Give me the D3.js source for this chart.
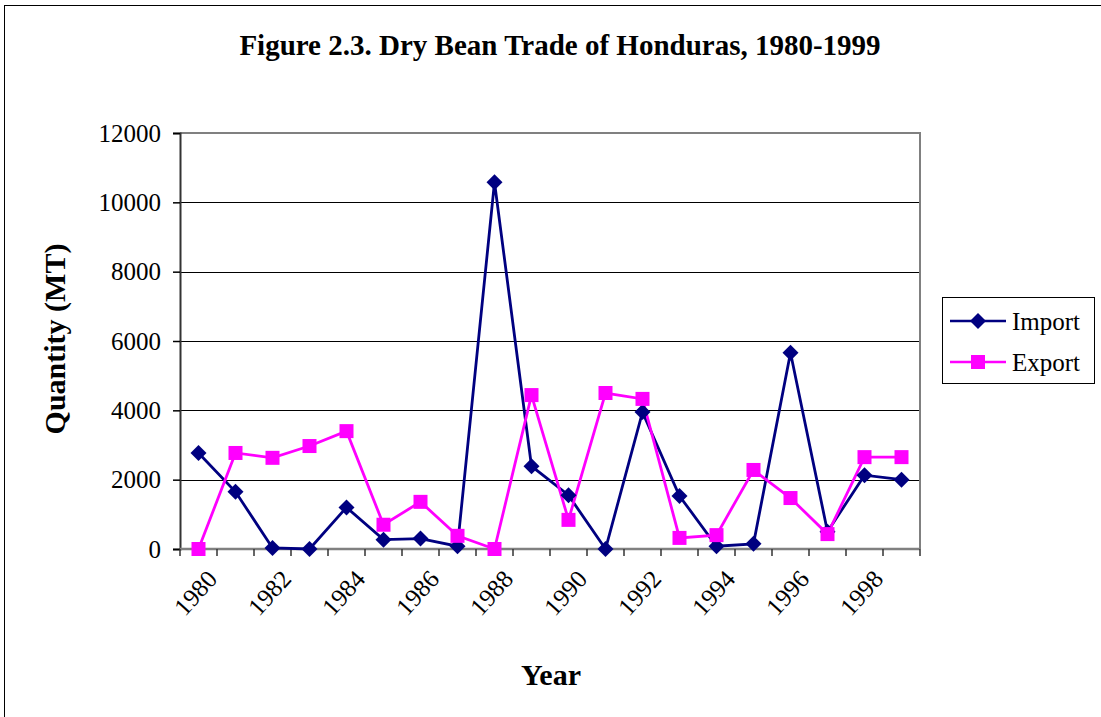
<!DOCTYPE html>
<html>
<head>
<meta charset="utf-8">
<title>Dry Bean Trade of Honduras</title>
<script src="https://d3js.org/d3.v7.min.js"></script>
<style>
  body { margin: 0; background: #fff; }
  svg { display: block; font-family: "Liberation Serif", "Times New Roman", serif; }
</style>
</head>
<body>
<svg id="chart" width="1101" height="717"></svg>
<script>
// data
const years = ["1980","1981","1982","1983","1984","1985","1986","1987","1988","1989",
               "1990","1991","1992","1993","1994","1995","1996","1997","1998","1999"];
const importValues = [2770, 1650, 30, 0, 1200, 270, 300, 80, 10580, 2390,
                      1550, 0, 3950, 1530, 80, 150, 5660, 500, 2130, 2000];
const exportValues = [0, 2770, 2630, 2970, 3400, 700, 1360, 380, 0, 4440,
                      840, 4500, 4330, 320, 400, 2280, 1470, 430, 2650, 2650];
const yTicks = [0, 2000, 4000, 6000, 8000, 10000, 12000];
const labelYears = ["1980","1982","1984","1986","1988","1990","1992","1994","1996","1998"];

const svg = d3.select("#chart");
const plot = {left: 180, right: 920, top: 133, bottom: 549};

// outer chart border
svg.append("rect")
  .attr("x", 4.5).attr("y", 5.5)
  .attr("width", 1110).attr("height", 720)
  .attr("fill", "none").attr("stroke", "#000").attr("stroke-width", 1);

const x = d3.scaleBand().domain(years).range([plot.left, plot.right]);
const y = d3.scaleLinear().domain([0, 12000]).range([plot.bottom, plot.top]);
const cx = function(d) { return x(d) + x.bandwidth() / 2; };

// title
svg.append("text")
  .attr("x", 560).attr("y", 55)
  .attr("text-anchor", "middle")
  .attr("font-size", 29).attr("font-weight", "bold")
  .text("Figure 2.3. Dry Bean Trade of Honduras, 1980-1999");

// gridlines
svg.append("g").selectAll("line")
  .data(yTicks.filter(function(t) { return t > 0 && t < 12000; }))
  .enter().append("line")
    .attr("x1", plot.left).attr("x2", plot.right)
    .attr("y1", function(d) { return Math.round(y(d)) + 0.5; })
    .attr("y2", function(d) { return Math.round(y(d)) + 0.5; })
    .attr("stroke", "#000").attr("stroke-width", 1);

// plot frame: top + right gray
svg.append("path")
  .attr("d", "M" + plot.left + "," + (plot.top) + "H" + plot.right + "V" + plot.bottom)
  .attr("fill", "none").attr("stroke", "#808080").attr("stroke-width", 2);

// y axis
const yAxis = svg.append("g")
  .attr("transform", "translate(" + plot.left + ",0)")
  .call(d3.axisLeft(y).tickValues(yTicks).tickSize(7).tickPadding(12).tickFormat(d3.format("d")));
yAxis.select(".domain").attr("stroke", "#333").attr("stroke-width", 2);
yAxis.selectAll(".tick line").attr("stroke", "#000").attr("stroke-width", 1.5);
yAxis.selectAll(".tick text")
  .attr("font-size", 25).attr("fill", "#000")
  .attr("font-family", "Liberation Serif, serif");

// x axis: baseline and ticks at category boundaries
const boundaries = years.map(function(d) { return x(d); }).concat([plot.right]);
svg.append("line")
  .attr("x1", plot.left).attr("x2", plot.right)
  .attr("y1", plot.bottom).attr("y2", plot.bottom)
  .attr("stroke", "#808080").attr("stroke-width", 2.5);
svg.append("g").selectAll("line")
  .data(boundaries)
  .enter().append("line")
    .attr("x1", function(d) { return d; }).attr("x2", function(d) { return d; })
    .attr("y1", plot.bottom).attr("y2", plot.bottom + 7)
    .attr("stroke", "#333").attr("stroke-width", 1.5);

// x tick labels, rotated
svg.append("g").selectAll("text")
  .data(labelYears)
  .enter().append("text")
    .attr("transform", function(d) { return "translate(" + (cx(d) + 20) + "," + 580 + ") rotate(-48)"; })
    .attr("text-anchor", "end")
    .attr("font-size", 25)
    .text(function(d) { return d; });

// axis titles
svg.append("text")
  .attr("transform", "translate(65,339) rotate(-90)")
  .attr("text-anchor", "middle")
  .attr("font-size", 30).attr("font-weight", "bold")
  .text("Quantity (MT)");
svg.append("text")
  .attr("x", 551).attr("y", 685)
  .attr("text-anchor", "middle")
  .attr("font-size", 30).attr("font-weight", "bold")
  .text("Year");

// series
const series = [
  {name: "Import", values: importValues, color: "#000080", marker: "diamond"},
  {name: "Export", values: exportValues, color: "#FF00FF", marker: "square"}
];

const line = d3.line()
  .x(function(d, i) { return cx(years[i]); })
  .y(function(d) { return y(d); });

function drawMarker(g, type, color) {
  if (type === "diamond") {
    g.append("path").attr("d", "M0,-8L8,0L0,8L-8,0Z").attr("fill", color);
  } else {
    g.append("rect").attr("x", -7).attr("y", -7).attr("width", 14).attr("height", 14).attr("fill", color);
  }
}

series.forEach(function(s) {
  svg.append("path")
    .datum(s.values)
    .attr("d", line)
    .attr("fill", "none")
    .attr("stroke", s.color)
    .attr("stroke-width", 2.8);
});
series.forEach(function(s) {
  s.values.forEach(function(v, i) {
    const g = svg.append("g").attr("transform", "translate(" + cx(years[i]) + "," + y(v) + ")");
    drawMarker(g, s.marker, s.color);
  });
});

// legend
const legend = svg.append("g");
legend.append("rect")
  .attr("x", 942.5).attr("y", 297.5).attr("width", 152).attr("height", 86)
  .attr("fill", "#fff").attr("stroke", "#000").attr("stroke-width", 1);
series.forEach(function(s, i) {
  const ly = 321 + i * 41;
  legend.append("line")
    .attr("x1", 950).attr("x2", 1006).attr("y1", ly).attr("y2", ly)
    .attr("stroke", s.color).attr("stroke-width", 2.5);
  drawMarker(legend.append("g").attr("transform", "translate(978," + ly + ")"), s.marker, s.color);
  legend.append("text")
    .attr("x", 1012).attr("y", ly + 9)
    .attr("font-size", 25)
    .text(s.name);
});
</script>
</body>
</html>
